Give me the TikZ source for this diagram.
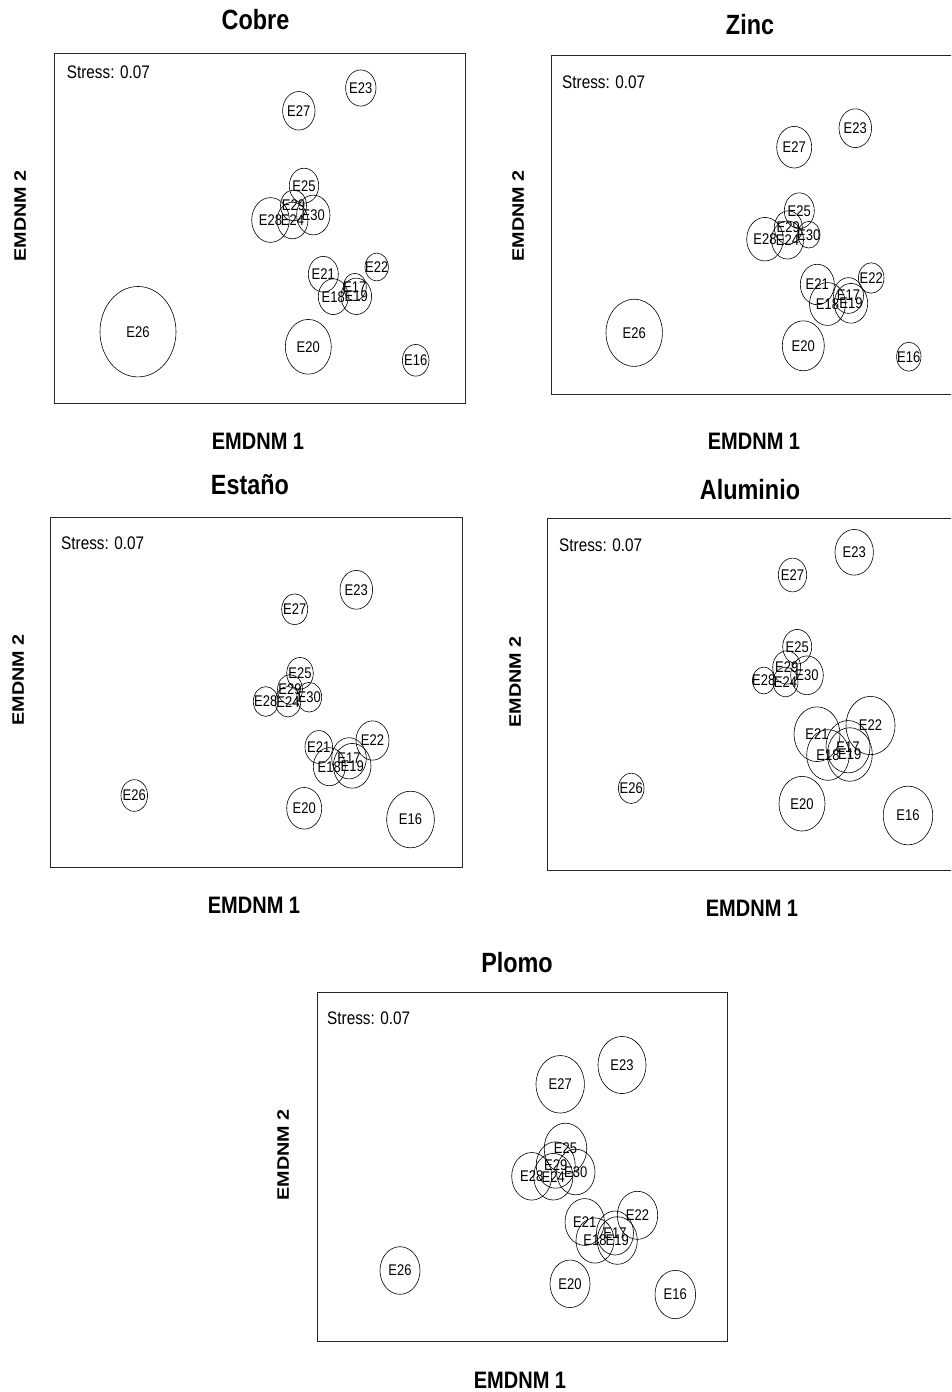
\documentclass[tikz,border=0pt]{standalone}
\usepackage{fontspec}
\setmainfont{Liberation Sans}
\usepackage{graphicx}
\tikzset{
 frame/.style={draw=black!85, line width=0.9pt},
 bubble/.style={draw=black, line width=0.6pt},
 elab/.style={inner sep=0pt, font=\fontsize{13}{13}\selectfont},
 stress/.style={inner sep=0pt, anchor=west, font=\fontsize{15.3}{15}\selectfont},
 ptitle/.style={inner sep=0pt, font=\bfseries\fontsize{23.4}{24}\selectfont},
 xlab/.style={inner sep=0pt, font=\bfseries\fontsize{20}{20}\selectfont},
 ylab/.style={inner sep=0pt, font=\bfseries\fontsize{16.6}{17}\selectfont},
}
\newcommand\vs[1]{\scalebox{1}[1.19]{#1}}
\newcommand\bub[5]{\draw[bubble] (#3,#4) ellipse [x radius=#5pt, y radius=1.19*#5pt];
 \node[elab] (#1#2) at (#3,#4) {\vs{#2}};}
\begin{document}
\begin{tikzpicture}[x=1pt,y=-1pt]
\useasboundingbox (0,0) rectangle (951,1392);
\clip (0,0) rectangle (951,1392);
\fill[white] (0,0) rectangle (951,1392);

% ---------- Panel 1: Cobre ----------
\draw[frame] (54,53) rectangle (465,403);
\node[ptitle] (t1) at (255.5,20) {\vs{Cobre}};
\node[xlab] (x1) at (258,441) {\vs{EMDNM 1}};
\node[ylab] (y1) at (20,216) {\vs{\rotatebox{90}{EMDNM 2}}};
\node[stress] (s1) at (66.7,72) {\vs{Stress: 0.07}};
\bub{p1}{E26}{138}{331.7}{38}
\bub{p1}{E20}{308.3}{346.8}{23}
\bub{p1}{E16}{415.7}{360.3}{13.3}
\bub{p1}{E23}{360.8}{88}{15.2}
\bub{p1}{E27}{298.8}{110.8}{16.2}
\bub{p1}{E25}{304}{185.7}{14.7}
\bub{p1}{E29}{293.5}{205.5}{13}
\bub{p1}{E28}{270.5}{220}{18.8}
\bub{p1}{E24}{292.5}{220.5}{15.4}
\bub{p1}{E30}{313.3}{215}{16.7}
\bub{p1}{E22}{376.7}{267}{11.7}
\bub{p1}{E21}{323.3}{274.2}{15}
\bub{p1}{E17}{354.8}{287}{11.5}
\bub{p1}{E18}{333.3}{296.7}{15}
\bub{p1}{E19}{356.3}{296.3}{15.3}

% ---------- Panel 2: Zinc ----------
\draw[frame] (551,55) rectangle (962,394);
\node[ptitle] (t2) at (750,25) {\vs{Zinc}};
\node[xlab] (x2) at (754,441) {\vs{EMDNM 1}};
\node[ylab] (y2) at (518,216) {\vs{\rotatebox{90}{EMDNM 2}}};
\node[stress] (s2) at (562,82.7) {\vs{Stress: 0.07}};
\bub{p2}{E26}{634.2}{332.8}{28.2}
\bub{p2}{E20}{803.3}{345.8}{21}
\bub{p2}{E16}{908.8}{356.7}{12.2}
\bub{p2}{E23}{855.3}{128.2}{16.3}
\bub{p2}{E27}{794.2}{147.2}{17.5}
\bub{p2}{E25}{799.3}{210.7}{15}
\bub{p2}{E29}{788.3}{227.5}{14}
\bub{p2}{E28}{765}{239.2}{18.3}
\bub{p2}{E24}{787.5}{240}{16}
\bub{p2}{E30}{808.8}{234.7}{11.2}
\bub{p2}{E22}{871.2}{278}{12.8}
\bub{p2}{E21}{817.3}{284.5}{17}
\bub{p2}{E17}{848.5}{295.5}{15}
\bub{p2}{E18}{827.5}{304}{18}
\bub{p2}{E19}{851}{303.3}{16.7}

% ---------- Panel 3: Estaño ----------
\draw[frame] (50,517) rectangle (462,867);
\node[ptitle] (t3) at (250,485) {\vs{Estaño}};
\node[xlab] (x3) at (254,905) {\vs{EMDNM 1}};
\node[ylab] (y3) at (18,680) {\vs{\rotatebox{90}{EMDNM 2}}};
\node[stress] (s3) at (61,543) {\vs{Stress: 0.07}};
\bub{p3}{E26}{134.3}{795.5}{13.3}
\bub{p3}{E20}{304.2}{808.3}{17.5}
\bub{p3}{E16}{410.5}{819.5}{23.8}
\bub{p3}{E23}{356.3}{589.8}{16.3}
\bub{p3}{E27}{294.7}{609.3}{13}
\bub{p3}{E25}{300}{673.3}{13.3}
\bub{p3}{E29}{290}{689.5}{12.5}
\bub{p3}{E28}{265.8}{701.5}{12.5}
\bub{p3}{E24}{288}{701.7}{12.8}
\bub{p3}{E30}{309.2}{697.2}{12.5}
\bub{p3}{E22}{372.5}{740.5}{16.5}
\bub{p3}{E21}{318.8}{747}{13.8}
\bub{p3}{E17}{349}{758.3}{17.3}
\bub{p3}{E18}{329.3}{766.7}{16}
\bub{p3}{E19}{352.2}{765.8}{18.8}

% ---------- Panel 4: Aluminio ----------
\draw[frame] (547,518) rectangle (964,870);
\node[ptitle] (t4) at (750,490) {\vs{Aluminio}};
\node[xlab] (x4) at (752,908) {\vs{EMDNM 1}};
\node[ylab] (y4) at (515,682) {\vs{\rotatebox{90}{EMDNM 2}}};
\node[stress] (s4) at (559,545.7) {\vs{Stress: 0.07}};
\bub{p4}{E26}{631.2}{788.3}{12.8}
\bub{p4}{E20}{802}{803.7}{23}
\bub{p4}{E16}{908}{815.5}{24.7}
\bub{p4}{E23}{854.2}{552.3}{19.2}
\bub{p4}{E27}{792.5}{575}{14.2}
\bub{p4}{E25}{797.2}{646.7}{14.5}
\bub{p4}{E29}{786.7}{667.5}{14}
\bub{p4}{E28}{763.7}{680.5}{11.3}
\bub{p4}{E24}{785.5}{682}{12.5}
\bub{p4}{E30}{807}{675.3}{16.3}
\bub{p4}{E22}{870.5}{725.5}{24.5}
\bub{p4}{E21}{817}{734.2}{23}
\bub{p4}{E17}{848}{746.7}{22}
\bub{p4}{E18}{828}{755}{21.3}
\bub{p4}{E19}{849.8}{754.5}{22.5}

% ---------- Panel 5: Plomo ----------
\draw[frame] (317,992) rectangle (727,1341);
\node[ptitle] (t5) at (517,963) {\vs{Plomo}};
\node[xlab] (x5) at (520,1380) {\vs{EMDNM 1}};
\node[ylab] (y5) at (283,1155) {\vs{\rotatebox{90}{EMDNM 2}}};
\node[stress] (s5) at (327,1018) {\vs{Stress: 0.07}};
\bub{p5}{E26}{400}{1270.5}{20}
\bub{p5}{E20}{570}{1283.8}{20}
\bub{p5}{E16}{675.3}{1294.5}{20.3}
\bub{p5}{E23}{622}{1065}{24}
\bub{p5}{E27}{560.2}{1084.3}{24.2}
\bub{p5}{E25}{565.5}{1148.5}{21.3}
\bub{p5}{E29}{555.7}{1165}{19.5}
\bub{p5}{E28}{531.7}{1176.3}{20}
\bub{p5}{E24}{553.3}{1176.7}{19.6}
\bub{p5}{E30}{575.8}{1172}{19.2}
\bub{p5}{E22}{637.5}{1215.3}{20.2}
\bub{p5}{E21}{584.7}{1222}{19.7}
\bub{p5}{E17}{615}{1233}{18.5}
\bub{p5}{E18}{595}{1240.5}{19}
\bub{p5}{E19}{617.3}{1240.5}{20}
\end{tikzpicture}
\end{document}
